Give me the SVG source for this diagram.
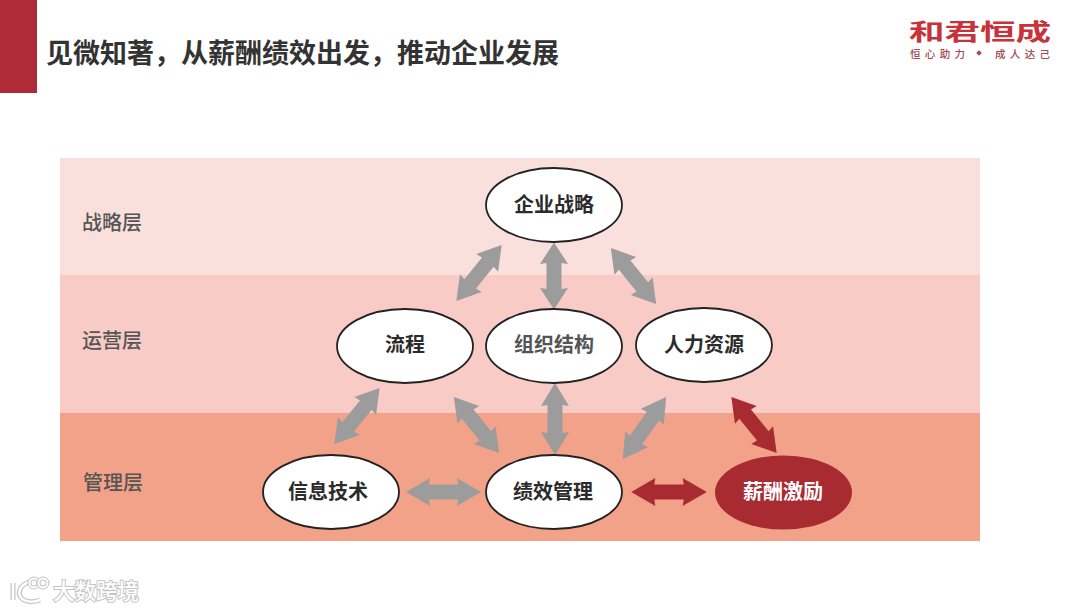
<svg xmlns="http://www.w3.org/2000/svg" width="1080" height="611" viewBox="0 0 1080 611">
<style>
text{font-family:"Noto Sans CJK SC","Noto Sans",sans-serif}
.node{fill:#fff;stroke:#222;stroke-width:1.8}
.nl{font-size:20px;font-weight:700;fill:#2b2b2b;text-anchor:middle;dominant-baseline:central}
.soft{fill:#555}
.band{font-size:20px;font-weight:500;fill:#555;text-anchor:middle;dominant-baseline:central}
.g{fill:#9c9c9c}
.r{fill:#a92b32}
</style>
<defs>
<polygon id="dbl" points="-36,0 -13,-14 -14,-7.500 14,-7.500 13,-14 36,0 13,14 14,7.500 -14,7.500 -13,14"/>
</defs>
<rect width="1080" height="611" fill="#fff"/>
<g id="header">
<rect x="0" y="0" width="37" height="93" fill="#ae2b37"/>
<text x="46" y="63" font-size="27" font-weight="700" fill="#333">见微知著，从薪酬绩效出发，推动企业发展</text>
</g>
<g id="logo">
<text transform="translate(909 39.500) scale(1.58 1)" font-size="22.500" font-weight="700" fill="#c8323a">和君恒成</text>
<text x="910" y="58" font-size="10.500" font-weight="500" fill="#a8494f" textLength="55" lengthAdjust="spacing">恒心助力</text>
<rect x="977" y="51" width="4" height="4" fill="#a8494f" transform="rotate(45 979 53)"/>
<text x="995" y="58" font-size="10.500" font-weight="500" fill="#a8494f" textLength="55" lengthAdjust="spacing">成人达己</text>
</g>
<g id="bands">
<rect x="60" y="158" width="920" height="117" fill="#fae0dc"/>
<rect x="60" y="275" width="920" height="138" fill="#f8cbc6"/>
<rect x="60" y="413" width="920" height="128" fill="#f2a288"/>
<text class="band" x="112" y="221">战略层</text>
<text class="band" x="112" y="339">运营层</text>
<text class="band" x="113" y="481">管理层</text>
</g>
<g id="connectors">
<use href="#dbl" class="g" transform="translate(479 273) rotate(-51)"/>
<use href="#dbl" class="g" transform="translate(554 276) rotate(90) scale(.93 1)"/>
<use href="#dbl" class="g" transform="translate(633.500 276) rotate(51)"/>
<use href="#dbl" class="g" transform="translate(357 416) rotate(-51)"/>
<use href="#dbl" class="g" transform="translate(476.500 425) rotate(51)"/>
<use href="#dbl" class="g" transform="translate(555 419) rotate(90)"/>
<use href="#dbl" class="g" transform="translate(644.500 428) rotate(-55) scale(1.05 1)"/>
<use href="#dbl" class="r" transform="translate(754 425) rotate(51)"/>
<use href="#dbl" class="g" transform="translate(443.500 492) scale(1.04 1)"/>
<use href="#dbl" class="r" transform="translate(669 492) scale(1.05 1)"/>
</g>
<g id="n-strategy"><ellipse class="node" cx="554" cy="205" rx="68" ry="37"/><text class="nl" x="554" y="203">企业战略</text></g>
<g id="n-process"><ellipse class="node" cx="405" cy="346" rx="68" ry="37"/><text class="nl" x="405" y="343">流程</text></g>
<g id="n-org"><ellipse class="node" cx="554" cy="346" rx="68" ry="37"/><text class="nl soft" x="554" y="343">组织结构</text></g>
<g id="n-hr"><ellipse class="node" cx="704" cy="345" rx="68" ry="37"/><text class="nl" x="704" y="343">人力资源</text></g>
<g id="n-it"><ellipse class="node" cx="331" cy="492" rx="68" ry="37"/><text class="nl" x="328" y="490">信息技术</text></g>
<g id="n-perf"><ellipse class="node" cx="554" cy="492" rx="68" ry="37"/><text class="nl" x="553" y="490">绩效管理</text></g>
<g id="n-pay"><ellipse cx="783.500" cy="492.500" rx="68.500" ry="37" fill="#a92b32"/><text class="nl" x="783" y="490" style="fill:#fff">薪酬激励</text></g>
<g id="watermark" fill="none" stroke="#fff" stroke-width="2.500">
<path d="M13 583V600M29 582C20 585 18 592 20 596C23 602 32 603 40 600" stroke="#c4c4c4" stroke-width="5"/>
<path d="M13 583V600M29 582C20 585 18 592 20 596C23 602 32 603 40 600"/>
<circle cx="34" cy="583" r="4.500" stroke="#c4c4c4" stroke-width="4"/><circle cx="34" cy="583" r="4.500" stroke-width="2"/>
<circle cx="43" cy="583" r="4.500" stroke="#c4c4c4" stroke-width="4"/><circle cx="43" cy="583" r="4.500" stroke-width="2"/>
<text x="53" y="599" font-size="21.500" font-weight="500" fill="#fff" stroke="#c4c4c4" stroke-width="2" style="paint-order:stroke">大数跨境</text>
</g>
</svg>
